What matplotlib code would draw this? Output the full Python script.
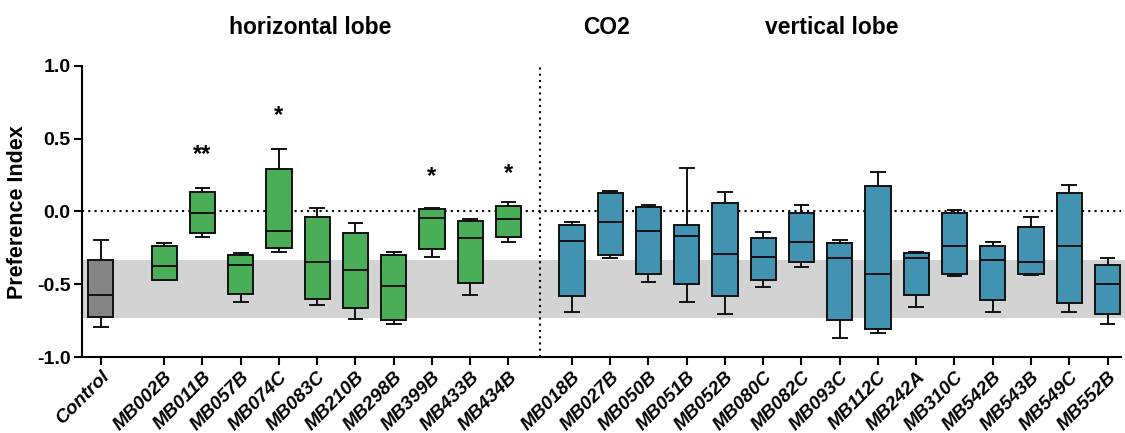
import matplotlib
matplotlib.use('Agg')
import matplotlib.pyplot as plt
from matplotlib.patches import Rectangle
import matplotlib.transforms as mtransforms

plt.rcParams['font.family'] = ['Liberation Sans', 'DejaVu Sans']

# ---------------- data ----------------
control = ['Control']
horizontal = ['MB002B', 'MB011B', 'MB057B', 'MB074C', 'MB083C', 'MB210B',
              'MB298B', 'MB399B', 'MB433B', 'MB434B']
vertical = ['MB018B', 'MB027B', 'MB050B', 'MB051B', 'MB052B', 'MB080C',
            'MB082C', 'MB093C', 'MB112C', 'MB242A', 'MB310C', 'MB542B',
            'MB543B', 'MB549C', 'MB552B']

ctrl_whislo = [-0.791]
ctrl_q1 = [-0.722]
ctrl_med = [-0.571]
ctrl_q3 = [-0.337]
ctrl_whishi = [-0.195]

hor_whislo = [-0.470, -0.179, -0.622, -0.280, -0.642, -0.741, -0.773, -0.312, -0.573, -0.211]
hor_q1 = [-0.470, -0.151, -0.569, -0.250, -0.599, -0.667, -0.745, -0.259, -0.491, -0.179]
hor_med = [-0.372, -0.011, -0.367, -0.135, -0.346, -0.404, -0.511, -0.046, -0.181, -0.055]
hor_q3 = [-0.236, 0.131, -0.298, 0.294, -0.039, -0.151, -0.300, 0.016, -0.067, 0.037]
hor_whishi = [-0.218, 0.161, -0.287, 0.431, 0.021, -0.080, -0.280, 0.021, -0.050, 0.062]

ver_whislo = [-0.690, -0.321, -0.482, -0.622, -0.702, -0.521, -0.381, -0.869, -0.833,
              -0.654, -0.443, -0.693, -0.440, -0.693, -0.773]
ver_q1 = [-0.580, -0.300, -0.431, -0.500, -0.578, -0.470, -0.351, -0.743, -0.805,
          -0.576, -0.429, -0.606, -0.429, -0.631, -0.704]
ver_med = [-0.206, -0.076, -0.135, -0.172, -0.294, -0.310, -0.213, -0.317, -0.431,
           -0.323, -0.236, -0.337, -0.346, -0.236, -0.498]
ver_q3 = [-0.096, 0.128, 0.032, -0.094, 0.060, -0.181, -0.011, -0.218, 0.172,
          -0.287, -0.011, -0.239, -0.108, 0.126, -0.365]
ver_whishi = [-0.071, 0.138, 0.041, 0.300, 0.131, -0.142, 0.041, -0.200, 0.268,
              -0.280, 0.011, -0.211, -0.041, 0.179, -0.321]

star_labels = ['MB011B', 'MB074C', 'MB399B', 'MB434B']
star_marks = ['**', '*', '*', '*']
star_values = [0.39, 0.655, 0.24, 0.26]

control_band = [-0.735, -0.333]

titles = ['horizontal lobe', 'CO2', 'vertical lobe']
yticks = [-1.0, -0.5, 0.0, 0.5, 1.0]
yticklabels = ['-1.0', '-0.5', '0.0', '0.5', '1.0']

# ---------------- style ----------------
grey = '#858585'
green = '#4aad57'
blue = '#4292b1'
band_col = '#d3d3d3'
gap = 1.66

W, H = 1125, 433
fig = plt.figure(figsize=(W / 100, H / 100), dpi=100)
ax_left, ax_right = 81.5, 1121.0
ax_top, ax_bot = 65.7, 357.0
ax = fig.add_axes([ax_left / W, 1 - ax_bot / H, (ax_right - ax_left) / W, (ax_bot - ax_top) / H])

labels = control + horizontal + vertical
pos = [0.0]
pos += [gap + i for i in range(len(horizontal))]
vstart = pos[-1] + gap
pos += [vstart + i for i in range(len(vertical))]

whislo = ctrl_whislo + hor_whislo + ver_whislo
q1 = ctrl_q1 + hor_q1 + ver_q1
med = ctrl_med + hor_med + ver_med
q3 = ctrl_q3 + hor_q3 + ver_q3
whishi = ctrl_whishi + hor_whishi + ver_whishi
colors = [grey] * len(control) + [green] * len(horizontal) + [blue] * len(vertical)

stats = [dict(label=l, whislo=a, q1=b, med=c, q3=d, whishi=e, fliers=[])
         for l, a, b, c, d, e in zip(labels, whislo, q1, med, q3, whishi)]

lw = 1.4
bp = ax.bxp(stats, positions=pos, widths=0.66, capwidths=0.36, patch_artist=True,
            showfliers=False,
            boxprops=dict(linewidth=lw, edgecolor='#111111'),
            medianprops=dict(color='#111111', linewidth=lw),
            whiskerprops=dict(color='#111111', linewidth=lw),
            capprops=dict(color='#111111', linewidth=lw))
for patch, c in zip(bp['boxes'], colors):
    patch.set_facecolor(c)
    patch.set_zorder(3)
for k in ('medians', 'whiskers', 'caps'):
    for ln in bp[k]:
        ln.set_zorder(3.5)

# shaded control band
trans = mtransforms.blended_transform_factory(ax.transAxes, ax.transData)
ax.add_patch(Rectangle((0, control_band[0]), (W - ax_left) / (ax_right - ax_left),
                       control_band[1] - control_band[0], transform=trans,
                       facecolor=band_col, edgecolor='none', zorder=0, clip_on=False))

# reference lines
ax.axhline(0, color='black', linestyle=(0, (1, 2)), linewidth=1.5, zorder=2)
sep = (pos[len(control) + len(horizontal) - 1] + vstart) / 2
ax.plot([sep, sep], [-1, 1], color='black', linestyle=(0, (1, 2)), linewidth=1.5,
        zorder=2, clip_on=False)

# stars
for lab, mk, yv in zip(star_labels, star_marks, star_values):
    x = pos[labels.index(lab)]
    ax.text(x, yv, mk, ha='center', va='center', fontsize=17, fontweight='bold')

ax.set_xlim(-0.5, pos[-1] + (ax_right - 1107.5) / 38.3)
ax.set_ylim(-1.0, 1.0)
ax.set_yticks(yticks)
ax.set_yticklabels(yticklabels, fontsize=14, fontweight='bold')
ax.set_xticks(pos)
ax.set_xticklabels(labels, rotation=45, ha='right', va='top', rotation_mode='anchor',
                   fontsize=13.8, fontweight='bold', fontstyle='italic')
ax.tick_params(axis='both', direction='out', length=6, width=1.5, color='black')
ax.tick_params(axis='y', pad=2)
ax.tick_params(axis='x', pad=2)
for s in ('top', 'right'):
    ax.spines[s].set_visible(False)
for s in ('left', 'bottom'):
    ax.spines[s].set_linewidth(1.5)

fig.text(18 / W, 1 - 212 / H, 'Preference Index', rotation=90, ha='center', va='center',
         fontsize=15.5, fontweight='bold')
for t, xc in zip(titles, [310.5, 606.7, 832.0]):
    fig.text(xc / W, 1 - 28 / H, t, ha='center', va='center', fontsize=16.5,
             fontweight='bold')

fig.savefig('out.png', dpi=100)
